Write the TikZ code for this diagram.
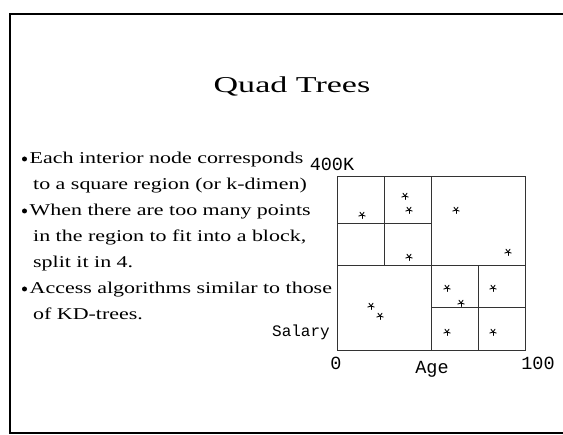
\documentclass[tikz,border=0pt]{standalone}
\usepackage{fontspec}
\newfontfamily\bodyfont[FakeStretch=1.33]{Liberation Serif}
\newfontfamily\titlefont[FakeStretch=1.5]{Liberation Serif}
\newfontfamily\labfont{Liberation Mono}
\begin{document}
\begin{tikzpicture}[x=1pt,y=-1pt,
  frameline/.style={line width=1.8pt,black},
  gridline/.style={line width=1pt,black!80},
  bodytext/.style={anchor=base west,inner sep=0pt,font=\bodyfont\fontsize{16.5}{20}\selectfont},
  bulletmark/.style={circle,fill=black,inner sep=0pt,minimum size=5pt},
  axislabel/.style={inner sep=0pt,font=\labfont\fontsize{18.5}{22}\selectfont},
  starmark/.pic={\foreach \a in {90,18,162,234,306} \draw[line width=0.9pt,line cap=round] (0,0) -- ++(\a:-3.4pt);}
]
\useasboundingbox (0,0) rectangle (563,435);
% slide frame (right edge lies outside the picture)
\draw[frameline] (570,14) -- (10,14) -- (10,433) -- (570,433);
% title
\node[anchor=base,inner sep=0pt,font=\titlefont\fontsize{22.7}{26}\selectfont] (title) at (292,93) {Quad Trees};
% bullets and text
\node[bulletmark] (b1) at (24.5,159) {};
\node[bodytext] (l1) at (29.5,164) {Each interior node corresponds};
\node[bodytext] (l2) at (33,190) {to a square region (or k-dimen)};
\node[bulletmark] (b2) at (24.5,211) {};
\node[bodytext] (l3) at (29.5,216) {When there are too many points};
\node[bodytext] (l4) at (33,242) {in the region to fit into a block,};
\node[bodytext] (l5) at (33,268) {split it in 4.};
\node[bulletmark] (b3) at (24.5,289) {};
\node[bodytext] (l6) at (29.5,294) {Access algorithms similar to those};
\node[bodytext] (l7) at (33,320) {of KD-trees.};
% quad tree square
\coordinate (sw) at (337,351);
\coordinate (ne) at (525,177);
\draw[gridline] (sw) rectangle (ne);
\draw[gridline] (431,177) -- (431,351);
\draw[gridline] (337,266) -- (525,266);
\draw[gridline] (384,177) -- (384,266);
\draw[gridline] (337,224) -- (431,224);
\draw[gridline] (478,266) -- (478,351);
\draw[gridline] (431,308) -- (525,308);
% points
\foreach \p in {(362,215),(405,196),(409,210),(456,210),(409,257),(508,252),(371,306),(380,316),(447,288),(461,303),(493,288),(447,332),(493,332)}
  \pic at \p {starmark};
% axis labels
\node[axislabel,anchor=base] (top) at (332,171) {400K};
\node[axislabel,anchor=base east,font=\labfont\fontsize{16}{20}\selectfont] (sal) at (330,337) {Salary};
\node[axislabel,anchor=base] (zero) at (336,370) {0};
\node[axislabel,anchor=base] (age) at (432,374) {Age};
\node[axislabel,anchor=base] (hund) at (538,370) {100};
\end{tikzpicture}
\end{document}
